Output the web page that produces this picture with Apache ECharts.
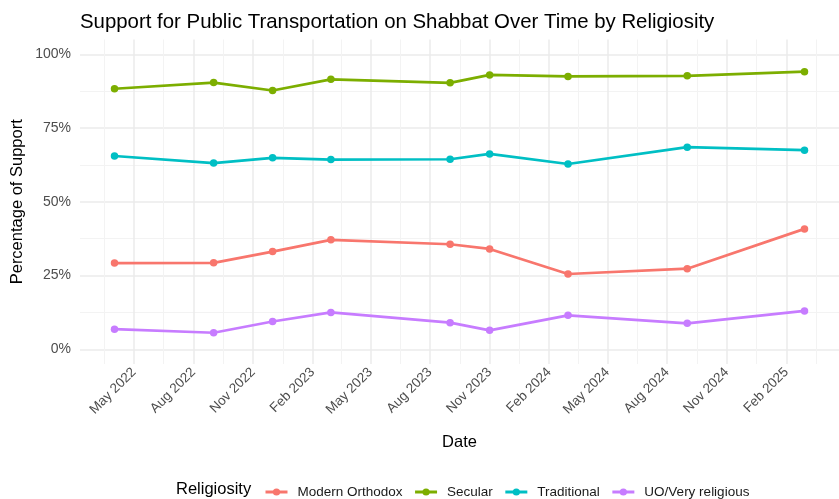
<!DOCTYPE html>
<html>
<head>
<meta charset="utf-8">
<script src="https://cdn.jsdelivr.net/npm/echarts@6/dist/echarts.min.js"></script>
<style>
  html, body { margin: 0; padding: 0; background: #fff; }
  #chart { width: 839px; height: 499px; }
</style>
</head>
<body>
<div id="chart"></div>
<script>
// survey waves
const surveyDates = ['2022-04-01', '2022-09-01', '2022-12-01', '2023-03-01', '2023-09-01',
  '2023-11-01', '2024-03-01', '2024-09-01', '2025-03-01']

// % support per group
const modernOrthodox = [29.2, 29.3, 33.1, 37.1, 35.6, 34.0, 25.5, 27.3, 40.8]
const secular = [88.3, 90.4, 87.7, 91.5, 90.3, 93.0, 92.5, 92.7, 94.1]
const traditional = [65.5, 63.1, 64.9, 64.3, 64.4, 66.2, 62.8, 68.5, 67.5]
const uoVeryReligious = [6.8, 5.6, 9.4, 12.5, 9.0, 6.4, 11.5, 8.8, 13.0]

const groupNames = ['Modern Orthodox', 'Secular', 'Traditional', 'UO/Very religious']
const groupColors = ['#F8766D', '#7CAE00', '#00BFC4', '#C77CFF']

// axis breaks
const dateTicks = ['2022-05-01', '2022-08-01', '2022-11-01', '2023-02-01', '2023-05-01', '2023-08-01',
  '2023-11-01', '2024-02-01', '2024-05-01', '2024-08-01', '2024-11-01', '2025-02-01']
const pctTicks = [0, 25, 50, 75, 100]
const monthNames = ['Jan', 'Feb', 'Mar', 'Apr', 'May', 'Jun', 'Jul', 'Aug', 'Sep', 'Oct', 'Nov', 'Dec']

const FONT = "'Liberation Sans', Arial, Helvetica, sans-serif"

function ts(s) {
  const [y, m, d] = s.split('-').map(Number)
  return Date.UTC(y, m - 1, d)
}

const xs = surveyDates.map(ts)
const majorX = dateTicks.map(ts)
// ggplot style minor breaks: midpoints between majors, plus one on each side
const step0 = majorX[1] - majorX[0]
const ext = [majorX[0] - step0].concat(majorX, [majorX[majorX.length - 1] + step0])
const minorX = []
for (let i = 0; i < ext.length - 1; i++) minorX.push((ext[i] + ext[i + 1]) / 2)
const minorY = []
for (let i = 0; i < pctTicks.length - 1; i++) minorY.push((pctTicks[i] + pctTicks[i + 1]) / 2)

// 5% expansion like ggplot
const span = xs[xs.length - 1] - xs[0]
const xMin = xs[0] - span * 0.05
const xMax = xs[xs.length - 1] + span * 0.05

const groups = [modernOrthodox, secular, traditional, uoVeryReligious]

const chart = echarts.init(document.getElementById('chart'))

chart.setOption({
  animation: false,
  textStyle: { fontFamily: FONT },
  title: [
    {
      text: 'Support for Public Transportation on Shabbat Over Time by Religiosity',
      left: 80, top: 12, padding: 0,
      textStyle: { fontFamily: FONT, fontSize: 20.4, fontWeight: 'normal', color: '#000' }
    },
    {
      text: 'Religiosity',
      left: 176, top: 481, padding: 0,
      textStyle: { fontFamily: FONT, fontSize: 16.5, fontWeight: 'normal', color: '#000' }
    }
  ],
  legend: {
    data: groupNames,
    left: 259, top: 480,
    itemWidth: 22, itemHeight: 9, itemGap: 11,
    lineStyle: { width: 3 },
    textStyle: { fontFamily: FONT, fontSize: 13.5, color: '#1a1a1a', padding: [0, 0, 0, 5] }
  },
  grid: { left: 80, right: -9, top: 39.5, bottom: 135 },
  xAxis: [
    {
      type: 'value', min: xMin, max: xMax,
      name: 'Date', nameLocation: 'middle', nameGap: 70,
      nameTextStyle: { fontFamily: FONT, fontSize: 16.5, color: '#000' },
      axisLine: { show: false },
      axisTick: { show: false, customValues: majorX },
      axisLabel: {
        customValues: majorX, rotate: 45, margin: 6,
        fontFamily: FONT, fontSize: 13.5, color: '#4D4D4D',
        formatter: v => { const d = new Date(v); return monthNames[d.getUTCMonth()] + ' ' + d.getUTCFullYear() }
      },
      splitLine: { show: true, lineStyle: { color: '#EBEBEB', width: 1.5 } }
    },
    {
      type: 'value', min: xMin, max: xMax, position: 'bottom',
      axisLine: { show: false },
      axisTick: { show: false, customValues: minorX },
      axisLabel: { show: false },
      splitLine: { show: true, lineStyle: { color: '#F3F3F3', width: 1 } }
    }
  ],
  yAxis: [
    {
      type: 'value', min: -5, max: 105,
      name: 'Percentage of Support', nameLocation: 'middle', nameGap: 54, nameMoveOverlap: false,
      nameTextStyle: { fontFamily: FONT, fontSize: 16.5, color: '#000' },
      axisLine: { show: false },
      axisTick: { show: false, customValues: pctTicks },
      axisLabel: {
        customValues: pctTicks, margin: 9,
        fontFamily: FONT, fontSize: 14, color: '#4D4D4D',
        formatter: v => v + '%'
      },
      splitLine: { show: true, lineStyle: { color: '#EBEBEB', width: 1.5 } }
    },
    {
      type: 'value', min: -5, max: 105, position: 'left',
      axisLine: { show: false },
      axisTick: { show: false, customValues: minorY },
      axisLabel: { show: false },
      splitLine: { show: true, lineStyle: { color: '#F3F3F3', width: 1 } }
    }
  ],
  series: groupNames.map((name, i) => ({
    name,
    type: 'line',
    xAxisIndex: 0, yAxisIndex: 0,
    data: xs.map((x, j) => [x, groups[i][j]]),
    symbol: 'circle', symbolSize: 7.5,
    lineStyle: { width: 2.7, color: groupColors[i] },
    itemStyle: { color: groupColors[i] },
    emphasis: { disabled: true }
  }))
})
</script>
</body>
</html>
